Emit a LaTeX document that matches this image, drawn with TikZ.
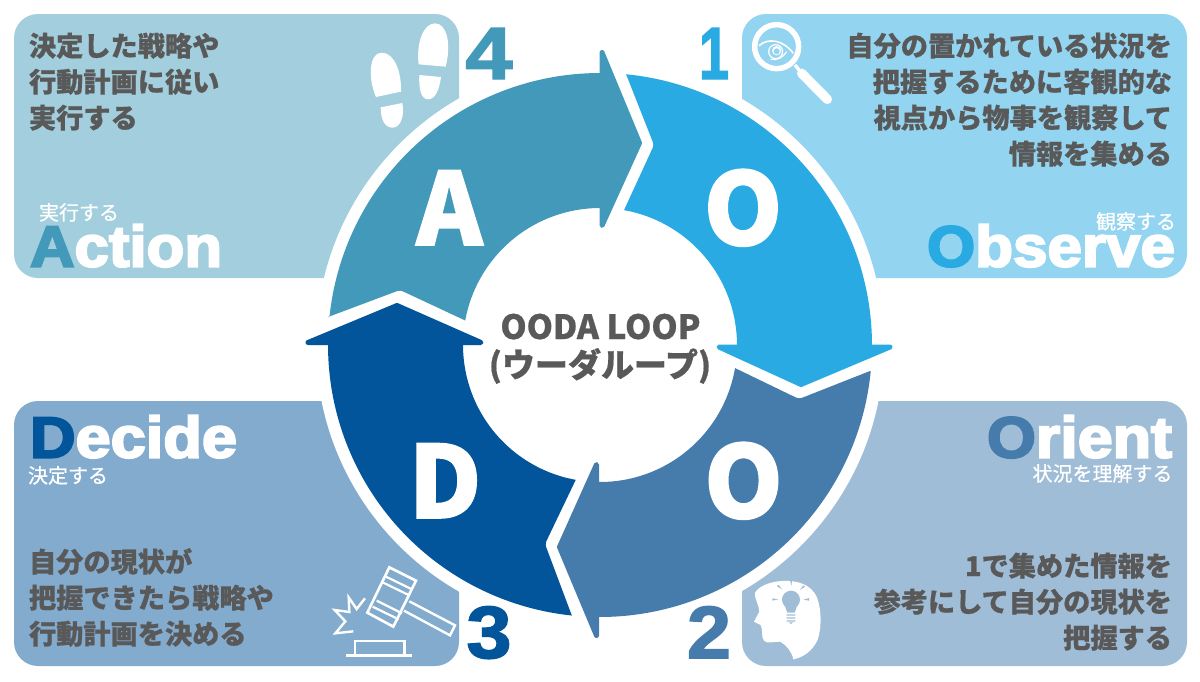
\documentclass[tikz,border=0pt]{standalone}
\usepackage{fontspec}
\usepackage{graphicx}
\setmainfont{Noto Sans CJK JP}
\newfontfamily\hv[BoldFeatures={FakeBold=1.6}]{Noto Sans CJK JP}
\newfontfamily\jb[BoldFeatures={FakeBold=.6}]{Noto Sans CJK JP}
\newfontfamily\ar[BoldFeatures={FakeBold=3.5}]{Liberation Sans}
\newfontfamily\ja[BoldFeatures={FakeBold=2}]{Liberation Sans}
\newcommand{\widetxt}[2]{\resizebox{#1pt}{\height}{#2}}
\definecolor{pa}{HTML}{93D4F0}
\definecolor{ra}{HTML}{29AAE2}
\definecolor{pb}{HTML}{A0BDD7}
\definecolor{rb}{HTML}{457CAB}
\definecolor{pc}{HTML}{82ABCE}
\definecolor{rc}{HTML}{02559A}
\definecolor{pd}{HTML}{A2CEDD}
\definecolor{rd}{HTML}{4399BA}
\definecolor{tx}{HTML}{595959}
\tikzset{
  panel/.style={rounded corners=24pt},
  head/.style={line width=5pt,line join=round},
  body/.style={font=\fontsize{27.2}{36}\selectfont\jb\bfseries,text=tx,inner sep=0pt,outer sep=0pt},
  bodyL/.style={body,anchor=base west},
  bodyR/.style={body,anchor=base east},
  small/.style={font=\fontsize{20}{24}\selectfont\addfontfeature{FakeBold=.7},text=white,inner sep=0pt,outer sep=0pt,anchor=base},
  word/.style={font=\fontsize{58}{60}\selectfont\ar\bfseries,text=white,inner sep=0pt,outer sep=0pt},
  num/.style={font=\fontsize{74}{74}\selectfont\ja\bfseries,inner sep=0pt,outer sep=0pt,anchor=base},
  big/.style={font=\fontsize{100}{100}\selectfont\hv\bfseries,text=white,inner sep=0pt,outer sep=0pt,anchor=base},
  ctr/.style={font=\fontsize{33.4}{38}\selectfont\jb\bfseries,text=tx,inner sep=0pt,anchor=base},
  ln/.style={white,line width=1.2pt},
}
\begin{document}
\begin{tikzpicture}[x=1pt,y=-1pt]
\useasboundingbox (0,0) rectangle (1200,681);
\fill[white] (0,0) rectangle (1200,681);
% panels
\fill[pd,panel] (14,14) rectangle (459,278);
\fill[pa,panel] (742,14) rectangle (1187,278);
\fill[pc,panel] (14,401) rectangle (459,666);
\fill[pb,panel] (742,401) rectangle (1187,666);
\fill[white] (600,345) circle[radius=284pt];
% ring segments
\fill[ra] (626,74) -- plot[domain=-84.5:1.5,samples=70] ({600+272*cos(\x)},{345+272*sin(\x)})
  -- plot[domain=1.5:-79.9,samples=50] ({600+137*cos(\x)},{345+137*sin(\x)})
  [rounded corners=3pt] -- (654,145) [sharp corners] -- cycle;
\fill[ra,draw=ra,head] (719,347) -- (890,347) -- (801,384.5) -- cycle;
\fill[rb] (870,371) -- plot[domain=5.5:91.5,samples=70] ({600+272*cos(\x)},{345+272*sin(\x)})
  -- plot[domain=91.5:9.7,samples=50] ({600+137*cos(\x)},{345+137*sin(\x)})
  [rounded corners=3pt] -- (799,399) [sharp corners] -- cycle;
\fill[rb,draw=rb,head] (596.5,464.5) -- (596.5,635.5) -- (559.5,547) -- cycle;
\fill[rc] (572,616) -- plot[domain=95.9:181,samples=70] ({600+272*cos(\x)},{345+272*sin(\x)})
  -- plot[domain=181:100.2,samples=50] ({600+137*cos(\x)},{345+137*sin(\x)})
  [rounded corners=3pt] -- (545,544) [sharp corners] -- cycle;
\fill[rc,draw=rc,head] (308,342.5) -- (481,342.5) -- (397,305.5) -- cycle;
\fill[rd] (328,317) -- plot[domain=185.9:271,samples=70] ({600+272*cos(\x)},{345+272*sin(\x)})
  -- plot[domain=271:190.3,samples=50] ({600+137*cos(\x)},{345+137*sin(\x)})
  [rounded corners=3pt] -- (400,290) [sharp corners] -- cycle;
\fill[rd,draw=rd,head] (602,52.5) -- (602,225.5) -- (639.5,143) -- cycle;
% ring letters
\node[big] (lo1) at (743,245) {O};
\node[big] (la) at (449.5,245) {A};
\node[big] (ld) at (445,518) {D};
\node[big] (lo2) at (743.5,518) {O};
% numbers
\node[num,text=ra] (n1) at (714,79) {\widetxt{30}{1}};
\node[num,text=rb] (n2) at (709,658) {\widetxt{44}{2}};
\node[num,text=rc] (n3) at (489,658) {\widetxt{45}{3}};
\node[num,text=rd] (n4) at (489,79) {\widetxt{47}{4}};
% centre
\node[ctr] (c1) at (600.5,339) {OODA LOOP};
\node[ctr] (c2) at (600,377) {\fontsize{33}{38}\selectfont (ウーダループ)};
% panel 1
\node[bodyR] (a1) at (1172,56) {自分の置かれている状況を};
\node[bodyR] (a2) at (1172,92) {把握するために客観的な};
\node[bodyR] (a3) at (1172,128) {視点から物事を観察して};
\node[bodyR] (a4) at (1172,164) {情報を集める};
\node[word,anchor=base east] (a6) at (1175,266.5) {\widetxt{248}{\textcolor{ra}{O}bserve}};
\node[small] (a5) at (1136,229) {観察する};
% panel 2
\node[bodyR] (b1) at (1172,576) {1で集めた情報を};
\node[bodyR] (b2) at (1172,612) {参考にして自分の現状を};
\node[bodyR] (b3) at (1172,648) {把握する};
\node[word,anchor=base east] (b6) at (1172,457.5) {\widetxt{185}{\textcolor{rb}{O}rient}};
\node[small] (b5) at (1102.5,481) {状況を理解する};
% panel 3
\node[bodyL] (c3) at (29,572) {自分の現状が};
\node[bodyL] (c4) at (29,608) {把握できたら戦略や};
\node[bodyL] (c5) at (29,644) {行動計画を決める};
\node[word,anchor=base west] (c7) at (30,457.5) {\widetxt{207}{\textcolor{rc}{D}ecide}};
\node[small] (c6) at (68,483) {決定する};
% panel 4
\node[bodyL] (d1) at (29,56) {決定した戦略や};
\node[bodyL] (d2) at (29,92) {行動計画に従い};
\node[bodyL] (d3) at (29,128) {実行する};
\node[word,anchor=base west] (d6) at (30,266.5) {\widetxt{192}{\textcolor{rd}{A}ction}};
\node[small] (d5) at (79,220) {実行する};
% magnifier
\begin{scope}[shift={(740,10)},x=.3333pt,y=-.3333pt]
\draw[white,line width=5.5pt] (110,110) circle[radius=66];
\draw[white,line width=3.5pt] (165,165) -- (185,190);
\draw[white,line width=9.5pt,line cap=round] (185,190) -- (262,268);
\draw[white,line width=1.6pt] (57,107) .. controls (85,82) and (130,90) .. (160,130);
\draw[ln] (92,148) .. controls (112,152) and (130,142) .. (140,125);
\draw[ln] (107,125) circle[radius=21];
\fill[white] (110,122) circle[radius=14];
\fill[pa] (110,124) circle[radius=9];
\foreach \ax/\ay/\bx/\by in {70,94,58,90,75,90,64,84,81,87,72,80}{\draw[white,line width=.9pt] (\ax,\ay) -- (\bx,\by);}
\end{scope}
% footprints
\begin{scope}[shift={(340,10)},x=.3333pt,y=-.3333pt]
\fill[white] (236,163) .. controls (228,100) and (250,40) .. (285,40) .. controls (320,40) and (335,100) .. (317,170) -- cycle;
\fill[white] (238,195) -- (303,201) .. controls (298,240) and (285,268) .. (265,268) .. controls (242,268) and (236,235) .. (238,195) -- cycle;
\fill[white] (108,261) .. controls (85,210) and (85,128) .. (125,128) .. controls (165,128) and (185,190) .. (183,245) -- cycle;
\fill[white] (122,292) -- (187,279) .. controls (195,320) and (180,353) .. (158,353) .. controls (135,353) and (122,330) .. (122,292) -- cycle;
\end{scope}
% gavel
\begin{scope}[shift={(320,560)},x=.3333pt,y=-.3333pt]
\draw[white,line width=2.6pt,line join=miter] (208,22) -- (288,62) -- (220,200) -- (142,158) -- cycle;
\draw[white,line width=2.2pt] (198,50) -- (276,88) (190,68) -- (268,106);
\draw[white,line width=2.2pt] (170,122) -- (246,160) (158,140) -- (236,178);
\draw[white,line width=2.4pt,line join=miter] (268,124) -- (405,196) -- (390,226) -- (252,152);
\draw[white,line width=2.4pt,line join=miter] (135,115) -- (110,147) -- (86,112) -- (88,156) -- (44,150) -- (76,184) -- (46,220) -- (100,214);
\draw[white,line width=2.4pt,line join=miter] (105,285) -- (105,243) -- (253,243) -- (253,285);
\draw[white,line width=3pt] (78,285) -- (275,285);
\end{scope}
% head
\begin{scope}[shift={(740,570)},x=.3333pt,y=-.3333pt]
\fill[white] (45,68) .. controls (60,45) and (95,35) .. (125,33) .. controls (170,30) and (215,42) .. (232,85)
  .. controls (245,125) and (245,170) .. (233,210) .. controls (215,245) and (190,262) .. (160,268)
  .. controls (155,245) and (140,225) .. (120,215) .. controls (100,215) and (80,222) .. (72,212)
  .. controls (62,200) and (70,180) .. (62,165) -- (42,155) -- (58,125) .. controls (58,105) and (42,85) .. (45,68) -- cycle;
\fill[pb] (153,89) circle[radius=27];
\fill[pb] (134,105) -- (172,105) -- (164,128) -- (142,128) -- cycle;
\fill[pb] (140,133) rectangle (166,137) (140,142) rectangle (166,146) (140,151) rectangle (166,155);
\fill[pb] (147,157) -- (159,157) -- (153,162) -- cycle;
\fill[pb] (151,33) -- (156,33) -- (154,48) -- cycle;
\fill[pb] (110,48) -- (116,45) -- (126,58) -- cycle;
\fill[pb] (190,46) -- (195,50) -- (180,60) -- cycle;
\fill[pb] (97,85) -- (115,88) -- (97,92) -- cycle;
\fill[pb] (207,84) -- (207,92) -- (191,89) -- cycle;
\end{scope}
\end{tikzpicture}
\end{document}
